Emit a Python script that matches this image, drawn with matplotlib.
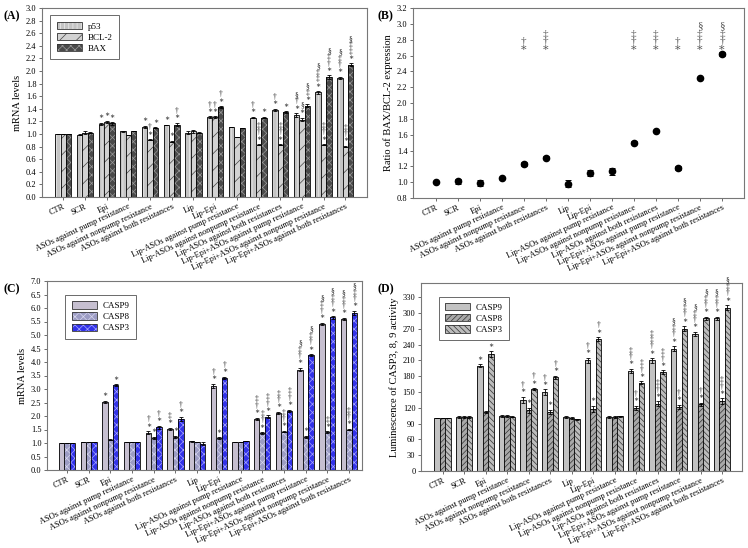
import numpy as np
import matplotlib.pyplot as plt
from matplotlib.patches import Patch

plt.rcParams['font.family'] = ['Liberation Serif', 'DejaVu Serif']
plt.rcParams['hatch.linewidth'] = 0.5

groups = ["CTR", "SCR", "Epi",
          "ASOs against pump resistance",
          "ASOs against nonpump resistance",
          "ASOs against both resistances",
          "Lip", "Lip-Epi",
          "Lip-ASOs against pump resistance",
          "Lip-ASOs against nonpump resistance",
          "Lip-ASOs against both resistances",
          "Lip-Epi+ASOs against pump resistance",
          "Lip-Epi+ASOs against nonpump resistance",
          "Lip-Epi+ASOs against both resistances"]

# (A) mRNA levels
p53 = [1.00, 0.99, 1.16, 1.04, 1.11, 1.15, 1.02, 1.27, 1.11, 1.26, 1.38, 1.30, 1.66, 1.89]
bcl2 = [1.00, 1.02, 1.19, 0.98, 0.91, 0.88, 1.04, 1.27, 0.96, 0.83, 0.83, 1.23, 0.83, 0.80]
bax = [1.00, 1.02, 1.17, 1.04, 1.10, 1.15, 1.02, 1.43, 1.09, 1.26, 1.35, 1.45, 1.90, 2.10]
p53_err = [0.0, 0.01, 0.02, 0.01, 0.02, 0.0, 0.02, 0.01, 0.0, 0.01, 0.02, 0.03, 0.02, 0.02]
bcl2_err = [0.0, 0.02, 0.02, 0.0, 0.01, 0.01, 0.03, 0.01, 0.0, 0.01, 0.01, 0.03, 0.01, 0.01]
bax_err = [0.0, 0.01, 0.02, 0.0, 0.01, 0.03, 0.01, 0.01, 0.0, 0.01, 0.01, 0.02, 0.03, 0.02]
p53_sig = ["", "", "∗", "", "∗", "∗", "", "†\n∗", "", "†\n∗", "†\n∗", "§\n†\n∗", "§\n‡\n‡\n∗", "§\n‡\n†\n∗"]
bcl2_sig = ["", "", "∗", "", "†\n∗", "∗", "", "†\n∗", "", "‡\n†\n∗", "‡\n†\n∗", "§\n∗", "‡\n†\n∗", "‡\n†\n∗"]
bax_sig = ["", "", "∗", "", "∗", "†\n∗", "", "†\n∗", "", "∗", "∗", "§\n‡\n∗", "§\n‡\n†\n∗", "§\n‡\n‡\n∗"]

# (B) ratio BAX/BCL-2
ratio = [1.00, 1.01, 0.99, 1.05, 1.23, 1.31, 0.98, 1.12, 1.14, 1.50, 1.65, 1.18, 2.31, 2.62]
ratio_err = [0.01, 0.03, 0.04, 0.015, 0.02, 0.02, 0.045, 0.04, 0.045, 0.015, 0.01, 0.02, 0.01, 0.02]
ratio_sig = ["", "", "", "", "†\n∗", "‡\n†\n∗", "", "", "", "‡\n†\n∗", "‡\n†\n∗", "†\n∗", "§\n‡\n†\n∗", "§\n‡\n†\n∗"]

# (C) caspase mRNA levels
c9 = [1.00, 1.02, 2.52, 1.03, 1.38, 1.52, 1.06, 3.12, 1.03, 1.90, 2.12, 3.72, 5.42, 5.60]
c8 = [1.00, 1.02, 1.12, 1.03, 1.18, 1.23, 1.02, 1.18, 1.05, 1.37, 1.42, 1.23, 1.40, 1.50]
c3 = [1.00, 1.02, 3.15, 1.03, 1.58, 1.90, 0.98, 3.42, 1.07, 1.98, 2.20, 4.25, 5.65, 5.82]
c9_err = [0.0, 0.0, 0.05, 0.0, 0.06, 0.05, 0.03, 0.08, 0.0, 0.04, 0.04, 0.06, 0.04, 0.03]
c8_err = [0.0, 0.0, 0.02, 0.0, 0.05, 0.04, 0.0, 0.03, 0.0, 0.03, 0.03, 0.03, 0.03, 0.03]
c3_err = [0.0, 0.0, 0.03, 0.0, 0.06, 0.08, 0.05, 0.04, 0.0, 0.04, 0.04, 0.04, 0.05, 0.08]
c9_sig = ["", "", "∗", "", "†\n∗", "‡\n∗", "", "†\n∗", "", "‡\n†\n∗", "‡\n†\n∗", "§\n‡\n†\n∗", "§\n‡\n†\n∗", "§\n‡\n†\n∗"]
c8_sig = ["", "", "", "", "∗", "∗", "", "∗", "", "‡\n†\n∗", "‡\n†\n∗", "∗", "‡\n∗", "‡\n†\n∗"]
c3_sig = ["", "", "∗", "", "†\n∗", "†\n∗", "", "†\n∗", "", "‡\n†\n∗", "‡\n†\n∗", "§\n‡\n†\n∗", "§\n‡\n†\n∗", "§\n‡\n†\n∗"]

# (D) luminescence of CASP3, 8, 9 activity
d9 = [100, 103, 200, 105, 135, 150, 103, 210, 103, 190, 210, 232, 260, 290]
d8 = [100, 103, 112, 104, 115, 112, 101, 118, 103, 120, 128, 122, 127, 133]
d3 = [100, 102, 222, 103, 155, 178, 98, 250, 104, 168, 188, 270, 290, 310]
d9_err = [0, 2, 3, 2, 6, 5, 2, 5, 2, 4, 4, 5, 4, 3]
d8_err = [0, 2, 2, 2, 5, 4, 2, 6, 2, 4, 4, 4, 3, 5]
d3_err = [0, 2, 5, 1, 2, 3, 1, 4, 1, 2, 3, 5, 3, 5]
d9_sig = ["", "", "∗", "", "†\n∗", "†\n∗", "", "†\n∗", "", "‡\n†\n∗", "‡\n‡\n†\n∗", "§\n‡\n†\n∗", "§\n‡\n†\n∗", "§\n‡\n†\n∗"]
d8_sig = ["", "", "", "", "∗", "∗", "", "∗", "", "†\n∗", "‡\n†\n∗", "†\n∗", "†\n∗", "‡\n†\n∗"]
d3_sig = ["", "", "∗", "", "†\n∗", "†\n∗", "", "†\n∗", "", "‡\n†\n∗", "‡\n†\n∗", "§\n‡\n†\n∗", "§\n‡\n†\n∗", "§\n‡\n†\n∗"]

W, H = 748, 548
fig = plt.figure(figsize=(W / 100, H / 100), dpi=100)


def px_axes(l, t, r, b):
    return fig.add_axes([l / W, 1 - b / H, (r - l) / W, (b - t) / H])


def style_axes(ax, xlim, ylim, yticks, fmt, ylabel):
    x = np.arange(len(groups))
    ax.set_xlim(*xlim)
    ax.set_ylim(*ylim)
    ax.set_yticks(yticks)
    ax.set_yticklabels([fmt % v for v in yticks], fontsize=6)
    ax.set_xticks(x)
    ax.set_xticklabels(groups, rotation=25, ha='right', rotation_mode='anchor', fontsize=6)
    ax.tick_params(axis='both', length=2.5, width=0.6, color='#555555', pad=1.5)
    for s in ax.spines.values():
        s.set_color('#777777')
        s.set_linewidth(0.8)
    ax.set_ylabel(ylabel, fontsize=7.5, labelpad=3)


def bar_panel(ax, series, errs, sigs, names, styles, legend_anchor):
    x = np.arange(len(groups))
    w = 0.25
    ymax = ax.get_ylim()[1]
    handles = []
    for i in range(3):
        face, hcol, hatch = styles[i]
        xs = x + (i - 1) * w
        ax.bar(xs, series[i], w, color=face, edgecolor=hcol, hatch=hatch, linewidth=0)
        ax.bar(xs, series[i], w, fill=False, edgecolor='black', linewidth=0.6)
        ax.errorbar(xs, series[i], yerr=errs[i], fmt='none', ecolor='black',
                    elinewidth=0.6, capsize=1.4, capthick=0.6)
        for xi, v, e, m in zip(xs, series[i], errs[i], sigs[i]):
            if m:
                ax.text(xi, v + e + 0.008 * ymax, m, ha='center', va='bottom',
                        fontsize=5.5, linespacing=0.72, color='#222222')
        handles.append((Patch(facecolor=face, edgecolor=hcol, hatch=hatch, linewidth=0),
                        Patch(fill=False, edgecolor='#333333', linewidth=0.6)))
    leg = ax.legend(handles, names, loc='upper left', bbox_to_anchor=legend_anchor,
                    fontsize=6.5, frameon=True, fancybox=False, edgecolor='#444444',
                    handlelength=2.8, handleheight=0.9, borderpad=0.7, labelspacing=0.25,
                    handletextpad=0.6)
    leg.get_frame().set_linewidth(0.7)


# ---- (A)
axA = px_axes(42, 8, 367, 197)
style_axes(axA, (-0.98, 14.0), (0, 3.0), np.arange(0, 3.01, 0.2), '%.1f', 'mRNA levels')
bar_panel(axA, [p53, bcl2, bax], [p53_err, bcl2_err, bax_err], [p53_sig, bcl2_sig, bax_sig],
          ['p53', 'BCL-2', 'BAX'],
          [('#c4c4c4', '#eeeeee', '||||'), ('#d2d2d2', '#444444', '//'), ('#4a4a4a', '#9a9a9a', 'xxxx')],
          (0.012, 0.985))

# ---- (B)
axB = px_axes(413, 8, 744, 198)
style_axes(axB, (-1.03, 14.0), (0.8, 3.2), np.arange(0.8, 3.21, 0.2), '%.1f',
           'Ratio of BAX/BCL-2 expression')
xb = np.arange(len(groups))
axB.errorbar(xb, ratio, yerr=ratio_err, fmt='o', color='black', markersize=4.5,
             elinewidth=0.7, capsize=2.5, capthick=0.7)
for xi, m in zip(xb, ratio_sig):
    if m:
        axB.text(xi, 2.63, m, ha='center', va='bottom', fontsize=8, linespacing=0.78,
                 color='#555555')

# ---- (C)
axC = px_axes(47, 281, 362, 470)
style_axes(axC, (-0.92, 13.6), (0, 7.0), np.arange(0, 7.01, 0.5), '%.1f', 'mRNA levels')
bar_panel(axC, [c9, c8, c3], [c9_err, c8_err, c3_err], [c9_sig, c8_sig, c3_sig],
          ['CASP9', 'CASP8', 'CASP3'],
          [('#c6bfd0', '#c6bfd0', ''), ('#9c9cc4', '#d8d8ee', 'xxxx'), ('#3232e8', '#a8a8ff', 'xxxx')],
          (0.044, 0.95))

# ---- (D)
axD = px_axes(421, 283, 742, 471)
style_axes(axD, (-1.0, 13.93), (0, 357), np.arange(0, 331, 30), '%d',
           'Luminescence of CASP3, 8, 9 activity')
bar_panel(axD, [d9, d8, d3], [d9_err, d8_err, d3_err], [d9_sig, d8_sig, d3_sig],
          ['CASP9', 'CASP8', 'CASP3'],
          [('#c2c2c2', '#c2c2c2', ''), ('#a8a8a8', '#333333', '//////'), ('#bcbcbc', '#333333', '\\\\\\\\\\\\')],
          (0.041, 0.952))

for lab, xp, yp in [('(A)', 3, 16), ('(B)', 377, 16), ('(C)', 3, 289), ('(D)', 377, 289)]:
    fig.text(xp / W, 1 - yp / H, lab, fontsize=8.5, fontweight='bold', va='center')

fig.savefig('out.png', dpi=100)
